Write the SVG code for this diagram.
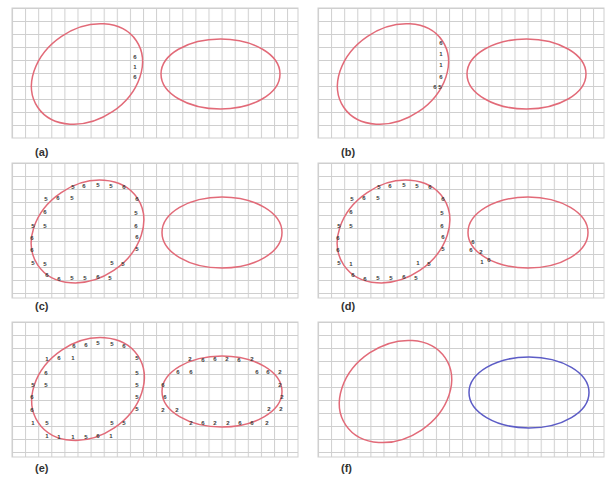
<svg xmlns="http://www.w3.org/2000/svg" width="613" height="477" viewBox="0 0 613 477">
<style>
.bg{fill:#ffffff}
.grid{fill:url(#gp);stroke:#cfcfcf;stroke-width:1}
.red{fill:none;stroke:#e26a78;stroke-width:1.5}
.blue{fill:none;stroke:#5c5cc6;stroke-width:1.5}
.lbl{font-family:"Liberation Sans",Arial,sans-serif;font-weight:bold;font-size:11px;fill:#333}
.m{font-family:"Liberation Sans",Arial,sans-serif;font-weight:bold;font-size:6px;fill:#3a3a3a;text-anchor:middle}
</style>
<defs>
<pattern id="gp" patternUnits="userSpaceOnUse" x="12" y="8" width="13.1" height="13">
<path d="M0.5 0V13M0 0.5H13.1" stroke="#cfcfcf" stroke-width="1" fill="none"/>
</pattern>
<g id="panel">
<rect class="grid" x="12" y="8" width="286" height="130"/>
</g>
</defs>
<rect class="bg" width="613" height="477"/>

<g id="panel-a">
<g transform="translate(0,0)">
<use href="#panel"/>
<ellipse class="red" cx="0" cy="0" rx="59.5" ry="45.5" transform="translate(87,74) rotate(-34)"/>
<ellipse class="red" cx="220.5" cy="74" rx="59.5" ry="35"/>
</g>
<text class="m" x="135" y="59">6</text>
<text class="m" x="135" y="69">1</text>
<text class="m" x="135" y="79">6</text>
<text class="lbl" x="35" y="156">(a)</text>
</g>

<g id="panel-b">
<g transform="translate(306,0)">
<use href="#panel"/>
<ellipse class="red" cx="0" cy="0" rx="59.5" ry="45.5" transform="translate(87,74) rotate(-34)"/>
<ellipse class="red" cx="220.5" cy="74" rx="59.5" ry="35"/>
</g>
<text class="m" x="441" y="45">6</text>
<text class="m" x="441" y="56">1</text>
<text class="m" x="441" y="67">1</text>
<text class="m" x="441" y="79">6</text>
<text class="m" x="435" y="89">6</text>
<text class="m" x="440" y="89">5</text>
<text class="lbl" x="341" y="156">(b)</text>
</g>

<g id="panel-c">
<g transform="translate(0,155)">
<rect class="grid" x="12" y="8" width="286" height="135"/>
<ellipse class="red" cx="0" cy="0" rx="60" ry="47" transform="translate(87.5,76.5) rotate(-34)"/>
<ellipse class="red" cx="222" cy="77.5" rx="60" ry="35.5"/>
</g>
<g>
<text class="m" x="73" y="189">5</text><text class="m" x="84" y="188">6</text><text class="m" x="98" y="187">5</text><text class="m" x="111" y="188">5</text><text class="m" x="124" y="189">6</text>
<text class="m" x="46" y="201">5</text><text class="m" x="58" y="200">6</text><text class="m" x="72" y="200">5</text>
<text class="m" x="137" y="201">6</text>
<text class="m" x="45" y="214">6</text><text class="m" x="136" y="215">5</text>
<text class="m" x="33" y="228">5</text><text class="m" x="45" y="228">5</text><text class="m" x="136" y="228">6</text>
<text class="m" x="32" y="240">6</text><text class="m" x="137" y="239">6</text>
<text class="m" x="32" y="252">6</text><text class="m" x="137" y="251">5</text>
<text class="m" x="33" y="265">5</text><text class="m" x="45" y="266">5</text><text class="m" x="112" y="265">5</text><text class="m" x="123" y="266">5</text>
<text class="m" x="47" y="277">6</text><text class="m" x="59" y="281">6</text><text class="m" x="72" y="280">5</text><text class="m" x="85" y="280">5</text><text class="m" x="98" y="279">6</text><text class="m" x="110" y="280">5</text>
</g>
<text class="lbl" x="35" y="310">(c)</text>
</g>

<g id="panel-d">
<g transform="translate(306,155)">
<rect class="grid" x="12" y="8" width="286" height="135"/>
<ellipse class="red" cx="0" cy="0" rx="60" ry="47" transform="translate(87.5,76.5) rotate(-34)"/>
<ellipse class="red" cx="222" cy="77.5" rx="60" ry="35.5"/>
</g>
<g>
<text class="m" x="379" y="189">5</text><text class="m" x="390" y="188">6</text><text class="m" x="404" y="187">5</text><text class="m" x="417" y="188">5</text><text class="m" x="430" y="189">6</text>
<text class="m" x="352" y="201">5</text><text class="m" x="364" y="200">6</text><text class="m" x="378" y="200">5</text>
<text class="m" x="443" y="201">6</text>
<text class="m" x="351" y="214">6</text><text class="m" x="442" y="215">5</text>
<text class="m" x="339" y="228">5</text><text class="m" x="351" y="228">5</text><text class="m" x="442" y="228">6</text>
<text class="m" x="338" y="240">6</text><text class="m" x="443" y="239">6</text>
<text class="m" x="338" y="252">6</text><text class="m" x="443" y="251">5</text>
<text class="m" x="339" y="265">5</text><text class="m" x="351" y="266">1</text><text class="m" x="418" y="265">1</text><text class="m" x="429" y="266">5</text>
<text class="m" x="353" y="277">6</text><text class="m" x="365" y="281">6</text><text class="m" x="378" y="280">5</text><text class="m" x="391" y="280">5</text><text class="m" x="404" y="279">6</text><text class="m" x="416" y="280">5</text>
<text class="m" x="473" y="244">6</text><text class="m" x="471" y="252">6</text><text class="m" x="481" y="254">2</text><text class="m" x="482" y="264">1</text><text class="m" x="489" y="262">6</text>
</g>
<text class="lbl" x="341" y="310">(d)</text>
</g>

<g id="panel-e">
<g transform="translate(0,314)">
<rect class="grid" x="12" y="8" width="286" height="135"/>
<ellipse class="red" cx="0" cy="0" rx="60" ry="47" transform="translate(88,75) rotate(-34)"/>
<ellipse class="red" cx="222" cy="77.5" rx="60" ry="35.5"/>
</g>
<g>
<text class="m" x="74" y="348">6</text><text class="m" x="86" y="347">6</text><text class="m" x="98" y="345">5</text><text class="m" x="112" y="346">5</text><text class="m" x="124" y="348">6</text>
<text class="m" x="47" y="361">1</text><text class="m" x="59" y="360">6</text><text class="m" x="73" y="360">1</text>
<text class="m" x="137" y="360">5</text>
<text class="m" x="46" y="375">6</text><text class="m" x="137" y="375">5</text>
<text class="m" x="33" y="387">5</text><text class="m" x="46" y="387">5</text><text class="m" x="137" y="387">5</text>
<text class="m" x="32" y="399">6</text><text class="m" x="137" y="399">5</text>
<text class="m" x="32" y="412">6</text><text class="m" x="137" y="411">5</text>
<text class="m" x="33" y="425">1</text><text class="m" x="47" y="425">5</text><text class="m" x="112" y="425">5</text><text class="m" x="124" y="425">5</text>
<text class="m" x="47" y="438">1</text><text class="m" x="59" y="439">1</text><text class="m" x="73" y="439">1</text><text class="m" x="86" y="439">5</text><text class="m" x="98" y="438">6</text><text class="m" x="111" y="438">1</text>
<text class="m" x="190" y="361">2</text><text class="m" x="203" y="362">6</text><text class="m" x="215" y="361">6</text><text class="m" x="227" y="361">2</text><text class="m" x="239" y="362">6</text><text class="m" x="252" y="361">2</text>
<text class="m" x="178" y="374">6</text><text class="m" x="191" y="374">6</text>
<text class="m" x="257" y="374">6</text><text class="m" x="268" y="374">6</text><text class="m" x="280" y="374">2</text>
<text class="m" x="163" y="387">6</text><text class="m" x="280" y="387">2</text>
<text class="m" x="165" y="399">6</text><text class="m" x="282" y="399">2</text>
<text class="m" x="163" y="412">2</text><text class="m" x="177" y="412">2</text><text class="m" x="269" y="411">2</text><text class="m" x="281" y="411">2</text>
<text class="m" x="191" y="425">2</text><text class="m" x="203" y="425">6</text><text class="m" x="215" y="425">2</text><text class="m" x="228" y="425">2</text><text class="m" x="240" y="425">6</text><text class="m" x="252" y="425">6</text><text class="m" x="267" y="425">2</text>
</g>
<text class="lbl" x="35" y="472">(e)</text>
</g>

<g id="panel-f">
<g transform="translate(306,314)">
<rect class="grid" x="12" y="8" width="286" height="135"/>
<ellipse class="red" cx="0" cy="0" rx="60" ry="46.5" transform="translate(89.5,77.5) rotate(-34)"/>
<ellipse class="blue" cx="223" cy="78.5" rx="60" ry="35.5"/>
</g>
<text class="lbl" x="341" y="472">(f)</text>
</g>
</svg>
